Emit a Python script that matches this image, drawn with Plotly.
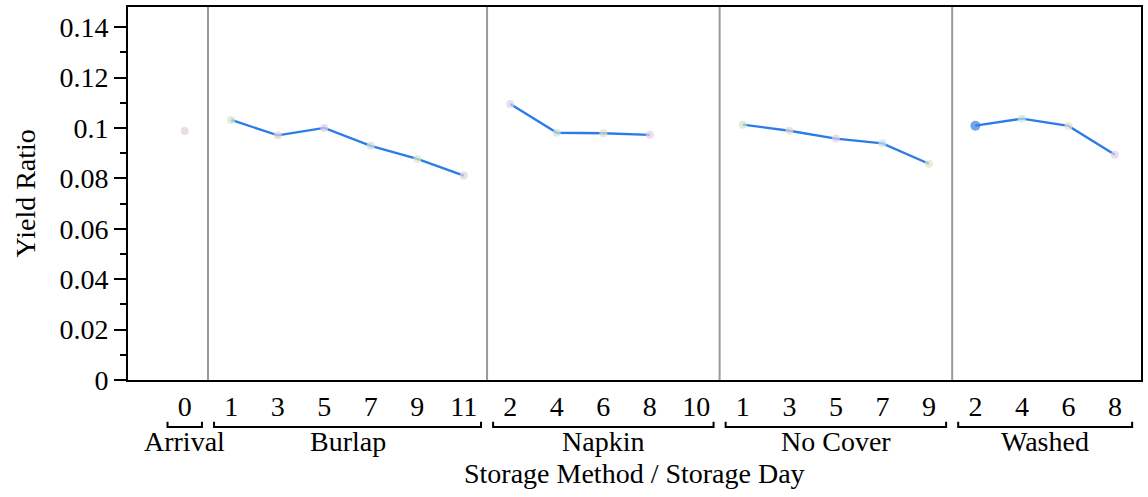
import plotly.graph_objects as go

# ---- data ----
groups = ["Arrival", "Burlap", "Napkin", "No Cover", "Washed"]
arrival_days = ["0"]
arrival_vals = [0.0988]
burlap_days = ["1", "3", "5", "7", "9", "11"]
burlap_vals = [0.1032, 0.0971, 0.1000, 0.0929, 0.0877, 0.0811]
napkin_days = ["2", "4", "6", "8", "10"]
napkin_vals = [0.1095, 0.0981, 0.0979, 0.0973, None]
nocover_days = ["1", "3", "5", "7", "9"]
nocover_vals = [0.1013, 0.0989, 0.0958, 0.0939, 0.0858]
washed_days = ["2", "4", "6", "8"]
washed_vals = [0.1009, 0.1037, 0.1008, 0.0894]

arrival_colors = ["#e3cfd9"]
burlap_colors = ["#cfe3cb", "#e8cfd9", "#d9cfe8", "#cbe0e0", "#dce6cb", "#e3cfe3"]
napkin_colors = ["#d3d6e8", "#cbe3d6", "#deddcb", "#e3cfe3", "#ffffff"]
nocover_colors = ["#cfe3cb", "#e8d8cf", "#e0cfe8", "#cbe3e3", "#dce6cb"]
washed_colors = ["#3c7de0", "#cbe3e0", "#e6e1cb", "#e0cfe8"]

y_ticks = [0, 0.02, 0.04, 0.06, 0.08, 0.1, 0.12, 0.14]
y_tick_labels = ["0", "0.02", "0.04", "0.06", "0.08", "0.1", "0.12", "0.14"]

FONT = "Liberation Serif"
LINE = "#2b7ce8"
FS = 28

all_days = [arrival_days, burlap_days, napkin_days, nocover_days, washed_days]
all_vals = [arrival_vals, burlap_vals, napkin_vals, nocover_vals, washed_vals]
all_cols = [arrival_colors, burlap_colors, napkin_colors, nocover_colors, washed_colors]

fig = go.Figure()
tickvals, ticktext = [], []
spans = []
idx = 0
for g, days, vals, cols in zip(groups, all_days, all_vals, all_cols):
    xs = list(range(idx, idx + len(days)))
    tickvals += xs
    ticktext += days
    spans.append((xs[0], xs[-1]))
    if len(xs) > 1:
        fig.add_trace(go.Scatter(x=xs, y=vals, mode="lines",
                                 line=dict(color=LINE, width=2.3), hoverinfo="skip",
                                 showlegend=False, connectgaps=False))
    sizes = [10 if c == "#3c7de0" else 8 for c in cols]
    fig.add_trace(go.Scatter(x=xs, y=vals, mode="markers",
                             marker=dict(color=cols, size=sizes, line=dict(width=0)),
                             showlegend=False))
    idx += len(days)

# separators between groups
for (a, b) in spans[:-1]:
    fig.add_shape(type="line", xref="x", yref="paper", x0=b + 0.5, x1=b + 0.5,
                  y0=0, y1=1, line=dict(color="#9a9a9a", width=2), layer="below")

# brackets and group labels
for g, (a, b) in zip(groups, spans):
    x0, x1 = a - 0.37, b + 0.37
    yb = -0.126
    fig.add_shape(type="path", xref="x", yref="paper",
                  path=f"M {x0},{yb + 0.014} L {x0},{yb} L {x1},{yb} L {x1},{yb + 0.014}",
                  line=dict(color="black", width=2))
    fig.add_annotation(x=(a + b) / 2, xref="x", y=-0.164, yref="paper", text=g,
                       showarrow=False, yanchor="middle",
                       font=dict(family=FONT, size=FS, color="black"))

fig.add_annotation(x=0.5, xref="paper", y=-0.25, yref="paper",
                   text="Storage Method / Storage Day", showarrow=False, yanchor="middle",
                   font=dict(family=FONT, size=FS, color="black"))
fig.add_annotation(x=0, xref="paper", xshift=-103, xanchor="center", y=0.5, yref="paper",
                   text="Yield Ratio", showarrow=False, textangle=-90,
                   font=dict(family=FONT, size=FS, color="black"))

fig.update_layout(
    width=1148, height=497,
    margin=dict(l=128, r=5, t=7, b=117),
    plot_bgcolor="white", paper_bgcolor="white",
    font=dict(family=FONT, size=FS, color="black"),
    showlegend=False,
)
fig.update_xaxes(range=[-1.22, 20.56], tickvals=tickvals, ticktext=ticktext,
                 showgrid=False, zeroline=False, showline=True, mirror=True,
                 linecolor="black", linewidth=2, ticks="", ticklabelstandoff=0)
fig.update_yaxes(range=[0, 0.148], tickvals=y_ticks, ticktext=y_tick_labels,
                 showgrid=False, zeroline=False, showline=True, mirror=True,
                 linecolor="black", linewidth=2, ticks="outside", ticklen=12,
                 tickwidth=2, tickcolor="black",
                 minor=dict(tickvals=[0.01, 0.03, 0.05, 0.07, 0.09, 0.11, 0.13],
                            ticks="outside", ticklen=6, tickwidth=2, tickcolor="black"))

fig.write_html("out.html")
